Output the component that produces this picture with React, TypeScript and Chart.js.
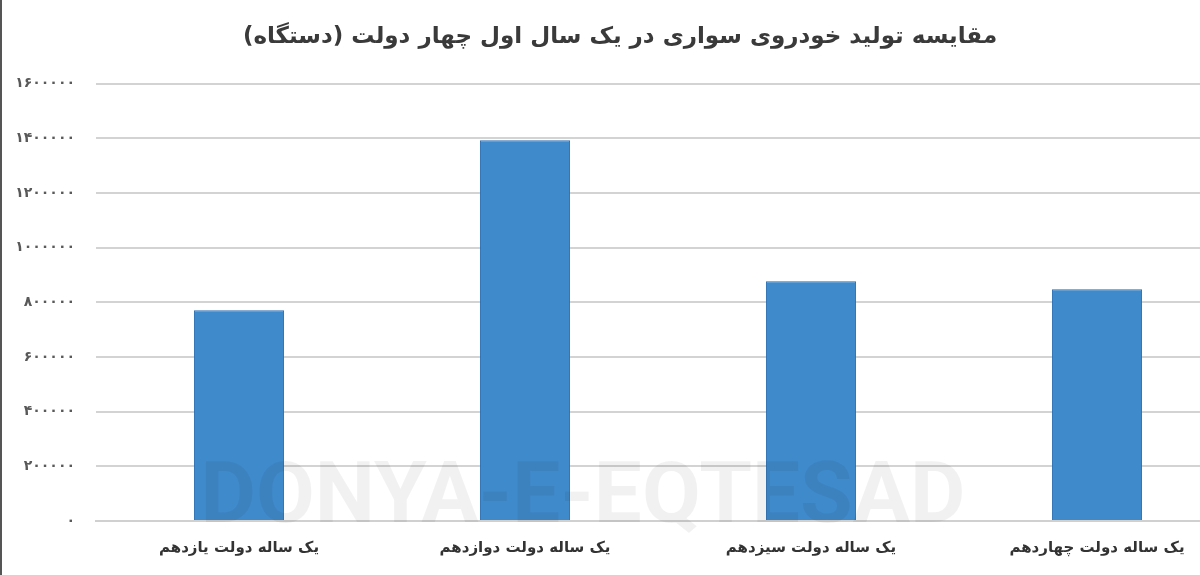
import React, { useEffect, useRef } from "react";
import { Chart, registerables } from "chart.js";

Chart.register(...registerables);

const titleText = "مقایسه تولید خودروی سواری در یک سال اول چهار دولت (دستگاه)";
const categories = [
  "یک ساله دولت یازدهم",
  "یک ساله دولت دوازدهم",
  "یک ساله دولت سیزدهم",
  "یک ساله دولت چهاردهم",
];
const production = [771000, 1393000, 877000, 848000];
const yTickValues = [0, 200000, 400000, 600000, 800000, 1000000, 1200000, 1400000, 1600000];
const yTickLabels = ["۰", "۲۰۰۰۰۰", "۴۰۰۰۰۰", "۶۰۰۰۰۰", "۸۰۰۰۰۰", "۱۰۰۰۰۰۰", "۱۲۰۰۰۰۰", "۱۴۰۰۰۰۰", "۱۶۰۰۰۰۰"];
const watermarkText = "DONYA-E-EQTESAD";

const watermarkPlugin = {
  id: "watermark",
  afterDatasetsDraw(chart: any) {
    const ctx = chart.ctx;
    ctx.save();
    ctx.font = "bold 86px Roboto";
    ctx.direction = "ltr";
    const w = ctx.measureText(watermarkText).width;
    const target = 765;
    const cx = 583;
    const cy = 500;
    ctx.translate(cx, cy);
    ctx.scale(target / w, 1);
    ctx.textAlign = "center";
    ctx.textBaseline = "middle";
    ctx.fillStyle = "rgba(0,0,0,0.055)";
    ctx.fillText(watermarkText, 0, 0);
    ctx.restore();
  },
};

export default function App() {
  const ref = useRef<HTMLCanvasElement | null>(null);
  useEffect(() => {
    if (!ref.current) return;
    const chart = new Chart(ref.current, {
      type: "bar",
      data: {
        labels: categories,
        datasets: [
          {
            data: production,
            backgroundColor: "#3f8acb",
            borderColor: "#2c6fb4",
            borderWidth: 1,
            categoryPercentage: 1,
            barPercentage: 0.315,
          },
        ],
      },
      options: {
        animation: false,
        responsive: false,
        devicePixelRatio: 1,
        layout: { padding: { left: 0, right: 0, top: 0, bottom: 0 } },
        plugins: {
          legend: { display: false },
          tooltip: { enabled: false },
          title: {
            display: true,
            text: titleText,
            color: "#3a3a3a",
            font: { family: "DejaVu Sans", size: 23, weight: "bold" },
            padding: { top: 23, bottom: 33 },
          },
        },
        scales: {
          x: {
            grid: { display: false, drawTicks: false },
            border: { display: true, color: "#d0d0d0", width: 2 },
            ticks: {
              color: "#333333",
              font: { family: "DejaVu Sans", size: 15, weight: "bold" },
              padding: 18,
              maxRotation: 0,
            },
          },
          y: {
            min: 0,
            max: 1600000,
            afterFit(scale: any) {
              scale.width = 96;
            },
            afterBuildTicks(scale: any) {
              scale.ticks = yTickValues.map((v) => ({ value: v }));
            },
            grid: { color: "#d3d3d3", lineWidth: 2, drawTicks: false },
            border: { display: false },
            ticks: {
              color: "#595959",
              font: { family: "DejaVu Sans", size: 14, weight: "bold" },
              padding: 21,
              callback: (v: any) => yTickLabels[yTickValues.indexOf(Number(v))] ?? "",
            },
          },
        },
      },
      plugins: [watermarkPlugin],
    });
    return () => chart.destroy();
  }, []);
  return (
    <div
      style={{
        position: "fixed",
        top: 0,
        left: 0,
        width: 1200,
        height: 575,
        overflow: "hidden",
        background: "#ffffff",
      }}
    >
      <canvas ref={ref} width={1240} height={575} dir="rtl" style={{ display: "block", direction: "rtl" }} />
      <div style={{ position: "absolute", left: 0, top: 0, width: 2, height: 575, background: "#555" }} />
    </div>
  );
}
